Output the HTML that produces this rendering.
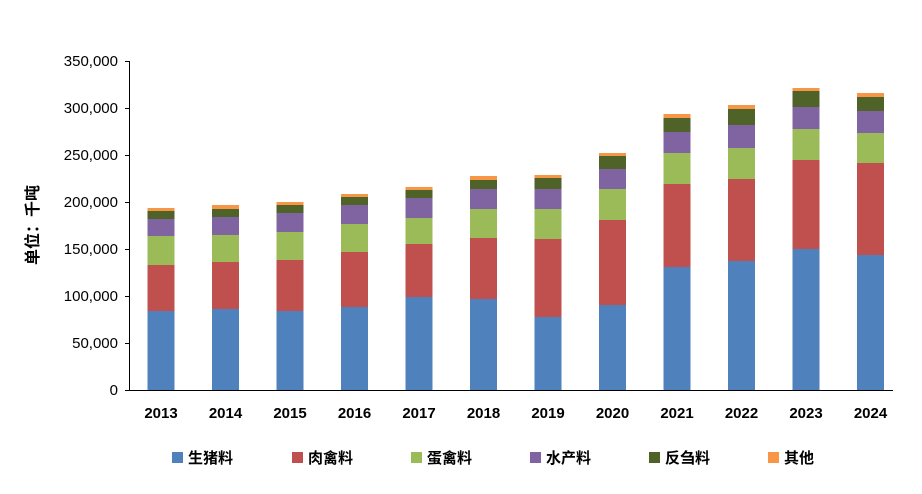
<!DOCTYPE html>
<html><head><meta charset="utf-8"><style>
body{margin:0;background:#fff}
svg{display:block;font-family:"Liberation Sans","Noto Sans CJK SC",sans-serif}
</style></head><body>
<svg width="922" height="494" xmlns="http://www.w3.org/2000/svg">
<g font-size="15" fill="#000" text-anchor="end">
<text x="118" y="395">0</text>
<text x="118" y="348">50,000</text>
<text x="118" y="301">100,000</text>
<text x="118" y="254">150,000</text>
<text x="118" y="207">200,000</text>
<text x="118" y="160">250,000</text>
<text x="118" y="113">300,000</text>
<text x="118" y="66">350,000</text>
</g>
<g stroke="#000" stroke-width="1">
<line x1="129.5" y1="61" x2="129.5" y2="390"/>
<line x1="129" y1="390.5" x2="893" y2="390.5"/>
<line x1="125" y1="390.5" x2="129" y2="390.5"/>
<line x1="125" y1="343.5" x2="129" y2="343.5"/>
<line x1="125" y1="296.5" x2="129" y2="296.5"/>
<line x1="125" y1="249.5" x2="129" y2="249.5"/>
<line x1="125" y1="202.5" x2="129" y2="202.5"/>
<line x1="125" y1="155.5" x2="129" y2="155.5"/>
<line x1="125" y1="108.5" x2="129" y2="108.5"/>
<line x1="125" y1="61.5" x2="129" y2="61.5"/>
</g>
<text transform="translate(38,225) rotate(-90)" font-size="16" font-weight="bold" text-anchor="middle">单位：千吨</text>
<g id="bars"></g>
<g font-size="15" font-weight="bold" text-anchor="middle" id="xl"></g>
<g font-size="15" font-weight="bold">
<rect x="172" y="452" width="11" height="11" fill="#4f81bd"/><text x="188" y="463">生猪料</text>
<rect x="292" y="452" width="11" height="11" fill="#c0504d"/><text x="308" y="463">肉禽料</text>
<rect x="411" y="452" width="11" height="11" fill="#9bbb59"/><text x="427" y="463">蛋禽料</text>
<rect x="530" y="452" width="11" height="11" fill="#8064a2"/><text x="546" y="463">水产料</text>
<rect x="649" y="452" width="11" height="11" fill="#4f6228"/><text x="665" y="463">反刍料</text>
<rect x="768" y="452" width="11" height="11" fill="#f79646"/><text x="784" y="463">其他</text>
</g>
<script>
var tops=[[311,265,236,219,211,208],[309,262,235,217,209,205],[311,260,232,213,205,202],[307,252,224,205,197,194],[297,244,218,198,190,187],[299,238,209,189,180,176],[317,239,209,189,178,175],[305,220,189,169,156,153],[267,184,153,132,118,114],[261,179,148,125,109,105],[249,160,129,107,91,88],[255,163,133,111,97,93]];
var cols=["#4f81bd","#c0504d","#9bbb59","#8064a2","#4f6228","#f79646"];
var g=document.getElementById("bars"),xl=document.getElementById("xl"),ns="http://www.w3.org/2000/svg";
tops.forEach(function(t,i){var cx=161+i*64.5,prev=390;
t.forEach(function(y,j){var r=document.createElementNS(ns,"rect");r.setAttribute("x",cx-13.5);r.setAttribute("width",27);r.setAttribute("y",y);r.setAttribute("height",prev-y);r.setAttribute("fill",cols[j]);g.appendChild(r);prev=y;});
var tx=document.createElementNS(ns,"text");tx.setAttribute("x",cx);tx.setAttribute("y",418);tx.textContent=2013+i;xl.appendChild(tx);});
</script>
</svg>
</body></html>
